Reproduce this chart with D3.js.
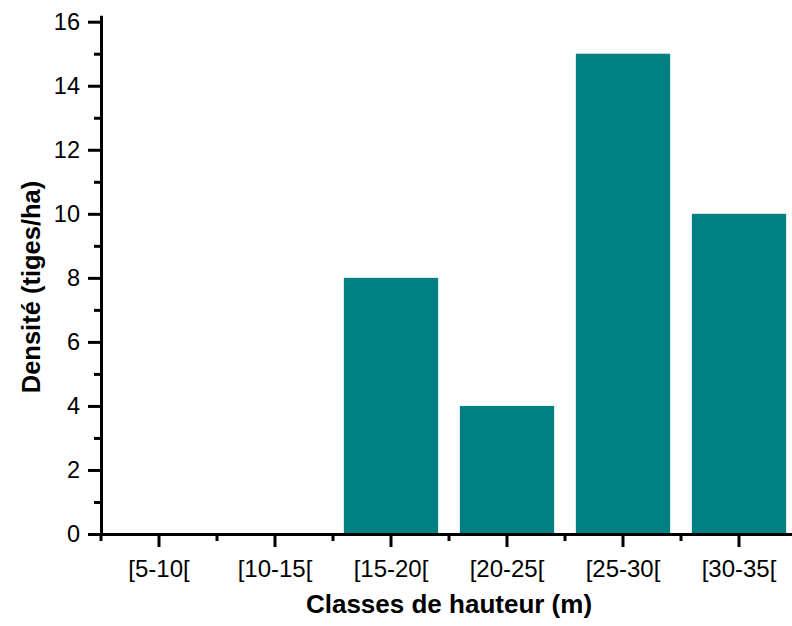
<!DOCTYPE html>
<html>
<head>
<meta charset="utf-8">
<script src="https://cdn.jsdelivr.net/npm/d3@7"></script>
<style>
  html, body { margin: 0; padding: 0; background: #fff; }
  svg { display: block; font-family: "Liberation Sans", Arial, sans-serif; }
</style>
</head>
<body>
<svg id="chart" width="792" height="626"></svg>
<script>
const categories = ["[5-10[", "[10-15[", "[15-20[", "[20-25[", "[25-30[", "[30-35["];
const densite = [0, 0, 8, 4, 15, 10];
const yMajorTicks = [0, 2, 4, 6, 8, 10, 12, 14, 16];
const yMinorTicks = [1, 3, 5, 7, 9, 11, 13, 15];
const xTitle = "Classes de hauteur (m)";
const yTitle = "Densité (tiges/ha)";

const svg = d3.select("#chart");
const left = 101, right = 797, bottom = 534;

const x = d3.scaleBand().domain(categories).range([left, right])
  .paddingInner(0.187).paddingOuter(0.0935);
const y = d3.scaleLinear().domain([0, 16.2]).range([bottom, 15.3]);

// bars
svg.append("g").selectAll("rect").data(categories).join("rect")
  .attr("x", d => x(d))
  .attr("width", x.bandwidth())
  .attr("y", (d, i) => y(densite[i]))
  .attr("height", (d, i) => y(0) - y(densite[i]))
  .attr("fill", "#008080");

// y axis minor ticks
const yMinor = svg.append("g").attr("transform", `translate(${left},0)`)
  .call(d3.axisLeft(y).tickValues(yMinorTicks).tickSize(7).tickSizeOuter(0).tickFormat(""));
yMinor.select(".domain").remove();
yMinor.selectAll("line").attr("stroke", "#000").attr("stroke-width", 3);

// y axis major
const yAxis = svg.append("g").attr("transform", `translate(${left},0)`)
  .call(d3.axisLeft(y).tickValues(yMajorTicks).tickSize(13).tickSizeOuter(0).tickPadding(8).tickFormat(d3.format("d")));
yAxis.select(".domain").attr("stroke", "#000").attr("stroke-width", 3);
yAxis.selectAll("line").attr("stroke", "#000").attr("stroke-width", 3);
yAxis.selectAll("text").attr("font-size", 23.5).attr("fill", "#000")
  .attr("font-family", "Liberation Sans, Arial, sans-serif");

// x axis minor ticks (band boundaries)
const boundaries = categories.map(c => x(c) - x.step() * x.paddingInner() / 2);
svg.append("g").selectAll("line").data(boundaries).join("line")
  .attr("x1", d => d).attr("x2", d => d)
  .attr("y1", bottom).attr("y2", bottom + 7)
  .attr("stroke", "#000").attr("stroke-width", 3);

// x axis major
const xAxis = svg.append("g").attr("transform", `translate(0,${bottom})`)
  .call(d3.axisBottom(x).tickSize(13).tickSizeOuter(0).tickPadding(13));
xAxis.select(".domain").attr("stroke", "#000").attr("stroke-width", 3);
xAxis.selectAll("line").attr("stroke", "#000").attr("stroke-width", 3);
xAxis.selectAll("text").attr("font-size", 24).attr("fill", "#000")
  .attr("font-family", "Liberation Sans, Arial, sans-serif");

// titles
svg.append("text").attr("x", (left + right) / 2).attr("y", 612.5)
  .attr("text-anchor", "middle").attr("font-size", 26).attr("font-weight", "bold")
  .text(xTitle);
svg.append("text").attr("transform", "translate(39.5,287) rotate(-90)")
  .attr("text-anchor", "middle").attr("font-size", 25.5).attr("font-weight", "bold")
  .text(yTitle);
</script>
</body>
</html>
